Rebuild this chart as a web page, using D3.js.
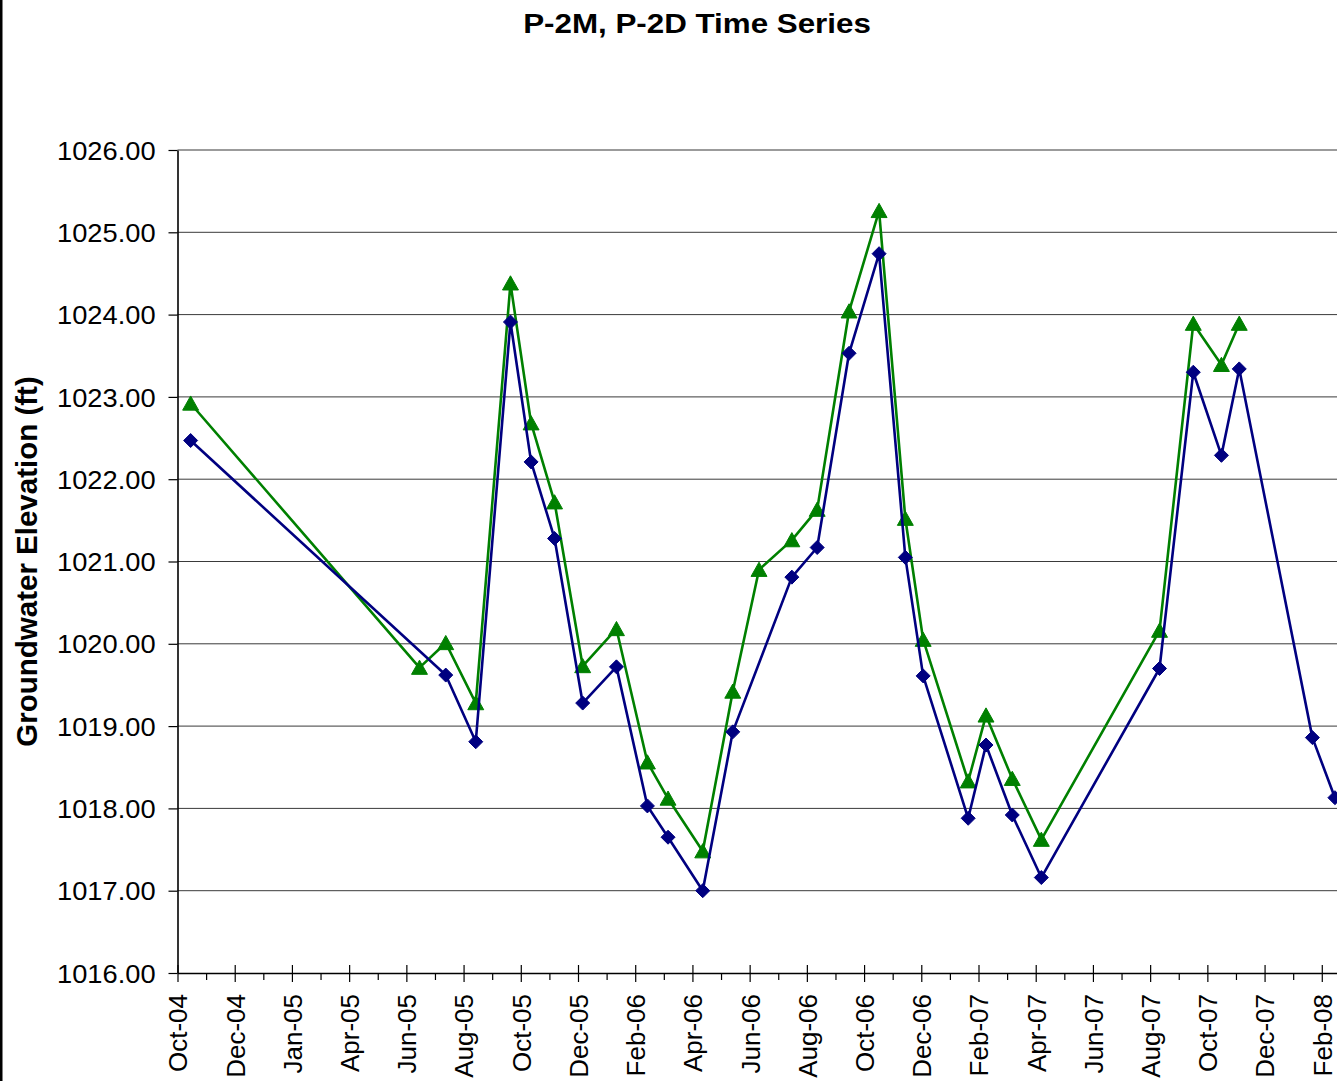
<!DOCTYPE html>
<html>
<head>
<meta charset="utf-8">
<title>P-2M, P-2D Time Series</title>
<script src="https://cdn.jsdelivr.net/npm/d3@7"></script>
<style>
  body { margin: 0; background: #fff; }
  text { font-family: "Liberation Sans", Arial, Helvetica, sans-serif; fill: #000; }
</style>
</head>
<body>
<svg id="chart" width="1337" height="1081"></svg>
<script>
// ---- data ---------------------------------------------------------------
// P-2M groundwater elevations (ft)
const p2mDates = [
  "2004-10-15", "2005-07-14", "2005-08-15", "2005-09-21", "2005-10-13", "2005-11-07",
  "2005-12-07", "2006-01-12", "2006-02-14", "2006-03-08", "2006-04-14", "2006-05-16",
  "2006-07-18", "2006-08-14", "2006-09-17", "2006-10-19", "2006-11-16", "2006-12-05",
  "2007-01-22", "2007-02-10", "2007-03-10", "2007-04-10", "2007-08-14", "2007-09-19",
  "2007-10-19", "2007-11-07", "2008-01-24", "2008-02-17"
];
const p2mValues = [
  1022.47, 1019.62, 1018.81, 1023.91, 1022.21, 1021.28,
  1019.28, 1019.72, 1018.03, 1017.65, 1017.00, 1018.93,
  1020.81, 1021.17, 1023.53, 1024.74, 1021.05, 1019.61,
  1017.88, 1018.77, 1017.92, 1017.16, 1019.70, 1023.30,
  1022.29, 1023.34, 1018.86, 1018.13
];

// P-2D groundwater elevations (ft)
const p2dDates = [
  "2004-10-15", "2005-06-16", "2005-07-14", "2005-08-15", "2005-09-21", "2005-10-13",
  "2005-11-07", "2005-12-07", "2006-01-12", "2006-02-14", "2006-03-08", "2006-04-14",
  "2006-05-16", "2006-06-13", "2006-07-18", "2006-08-14", "2006-09-17", "2006-10-19",
  "2006-11-16", "2006-12-05", "2007-01-22", "2007-02-10", "2007-03-10", "2007-04-10",
  "2007-08-14", "2007-09-19", "2007-10-19", "2007-11-07"
];
const p2dValues = [
  1022.92, 1019.71, 1020.01, 1019.28, 1024.38, 1022.68,
  1021.72, 1019.73, 1020.18, 1018.56, 1018.12, 1017.48,
  1019.42, 1020.90, 1021.26, 1021.63, 1024.04, 1025.26,
  1021.52, 1020.05, 1018.33, 1019.13, 1018.36, 1017.62,
  1020.16, 1023.89, 1023.39, 1023.89
];

// date axis: major unit of 61 days starting 1 Oct 2004
const xTickDates = [
  "2004-10-01", "2004-12-01", "2005-01-31", "2005-04-02", "2005-06-02", "2005-08-02",
  "2005-10-02", "2005-12-02", "2006-02-01", "2006-04-03", "2006-06-03", "2006-08-03",
  "2006-10-03", "2006-12-03", "2007-02-02", "2007-04-04", "2007-06-04", "2007-08-04",
  "2007-10-04", "2007-12-04", "2008-02-03"
];
const xTickLabels = [
  "Oct-04", "Dec-04", "Jan-05", "Apr-05", "Jun-05", "Aug-05",
  "Oct-05", "Dec-05", "Feb-06", "Apr-06", "Jun-06", "Aug-06",
  "Oct-06", "Dec-06", "Feb-07", "Apr-07", "Jun-07", "Aug-07",
  "Oct-07", "Dec-07", "Feb-08"
];
const xDomain = ["2004-10-01", "2008-04-04"];

const yTicks = [1016, 1017, 1018, 1019, 1020, 1021, 1022, 1023, 1024, 1025, 1026];
const yDomain = [1016, 1026];

const chartTitle = "P-2M, P-2D Time Series";
const yTitle = "Groundwater Elevation (ft)";

// ---- layout -------------------------------------------------------------
const parse = d3.utcParse("%Y-%m-%d");
const plot = { left: 177.5, top: 150, bottom: 973, right: 1379 };

const svg = d3.select("#chart");

const x = d3.scaleUtc()
  .domain(xDomain.map(parse))
  .range([plot.left, plot.right]);

const y = d3.scaleLinear()
  .domain(yDomain)
  .range([plot.bottom, plot.top]);

// outer chart border on the left edge
svg.append("rect")
  .attr("x", 0).attr("y", 0)
  .attr("width", 2.5).attr("height", 1081)
  .attr("fill", "#000");

// horizontal gridlines
svg.append("g")
  .selectAll("line")
  .data(yTicks.filter(v => v !== yDomain[0]))
  .join("line")
  .attr("x1", plot.left).attr("x2", plot.right)
  .attr("y1", d => y(d)).attr("y2", d => y(d))
  .attr("stroke", d => d === yDomain[1] ? "#7a7a7a" : "#3a3a3a")
  .attr("stroke-width", d => d === yDomain[1] ? 1.5 : 1);

// y axis
const yAxis = svg.append("g")
  .attr("transform", `translate(${plot.left},0)`)
  .call(d3.axisLeft(y).tickValues(yTicks).tickSize(9).tickSizeOuter(0)
        .tickFormat(d3.format(".2f")));
yAxis.select(".domain").attr("stroke", "#000").attr("stroke-width", 1.6);
yAxis.selectAll(".tick line").attr("stroke", "#000").attr("stroke-width", 1.2);
yAxis.selectAll(".tick text")
  .attr("x", -20.5)
  .attr("dy", "0.36em")
  .attr("transform", "scale(1.07,1)")
  .style("font-size", "25.5px")
  .style("font-family", "'Liberation Sans', Arial, sans-serif");

// x axis: minor ticks halfway between the major ones
const xTicks = xTickDates.map(parse);
const minorTicks = xTicks.map(d => d3.utcHour.offset(d, 61 * 12));
const xMinor = svg.append("g")
  .attr("transform", `translate(0,${plot.bottom})`)
  .call(d3.axisBottom(x).tickValues(minorTicks).tickSize(7).tickSizeOuter(0).tickFormat(""));
xMinor.select(".domain").remove();
xMinor.selectAll(".tick line").attr("stroke", "#000").attr("stroke-width", 1.2);

// x axis: major ticks crossing the axis line, rotated labels
const xAxis = svg.append("g")
  .attr("transform", `translate(0,${plot.bottom})`)
  .call(d3.axisBottom(x).tickValues(xTicks).tickSizeOuter(0)
        .tickFormat((d, i) => xTickLabels[i]));
xAxis.select(".domain").attr("stroke", "#000").attr("stroke-width", 1.6);
xAxis.selectAll(".tick line")
  .attr("y1", -8).attr("y2", 9)
  .attr("stroke", "#000").attr("stroke-width", 1.2);
xAxis.selectAll(".tick text")
  .attr("transform", "rotate(-90)")
  .attr("text-anchor", "end")
  .attr("x", -21)
  .attr("y", 0)
  .attr("dy", "0.36em")
  .style("font-size", "26px")
  .style("font-family", "'Liberation Sans', Arial, sans-serif");

// ---- series -------------------------------------------------------------
const diamond = {
  draw(ctx, size) {
    const r = Math.sqrt(size / 2);
    ctx.moveTo(0, -r); ctx.lineTo(r, 0); ctx.lineTo(0, r); ctx.lineTo(-r, 0); ctx.closePath();
  }
};
const triangle = {
  draw(ctx, size) {
    const h = Math.sqrt(size);
    ctx.moveTo(0, -h * 0.52); ctx.lineTo(h * 0.55, h * 0.46); ctx.lineTo(-h * 0.55, h * 0.46); ctx.closePath();
  }
};

const series = [
  { name: "P-2D", dates: p2dDates, values: p2dValues, color: "#008000", symbol: triangle, size: 210 },
  { name: "P-2M", dates: p2mDates, values: p2mValues, color: "#000080", symbol: diamond, size: 98 }
];

const line = d3.line()
  .x(d => x(d.date))
  .y(d => y(d.value));

series.forEach(s => {
  const pts = s.dates.map((d, i) => ({ date: parse(d), value: s.values[i] }));
  const g = svg.append("g").attr("class", "series").attr("data-name", s.name);
  g.append("path")
    .datum(pts)
    .attr("d", line)
    .attr("fill", "none")
    .attr("stroke", s.color)
    .attr("stroke-width", 2.6)
    .attr("stroke-linejoin", "round");
  g.selectAll("path.marker")
    .data(pts)
    .join("path")
    .attr("class", "marker")
    .attr("transform", d => `translate(${x(d.date)},${y(d.value)})`)
    .attr("d", d3.symbol().type(s.symbol).size(s.size))
    .attr("fill", s.color)
    .attr("stroke", s.color)
    .attr("stroke-width", 1)
    .attr("stroke-linejoin", "miter");
});

// ---- titles -------------------------------------------------------------
svg.append("text")
  .attr("transform", "translate(697,32.5) scale(1.1,1)")
  .attr("text-anchor", "middle")
  .style("font-size", "28.5px")
  .style("font-weight", "bold")
  .text(chartTitle);

svg.append("text")
  .attr("transform", "translate(37,561.5) rotate(-90)")
  .attr("text-anchor", "middle")
  .style("font-size", "29.5px")
  .style("font-weight", "bold")
  .text(yTitle);
</script>
</body>
</html>
